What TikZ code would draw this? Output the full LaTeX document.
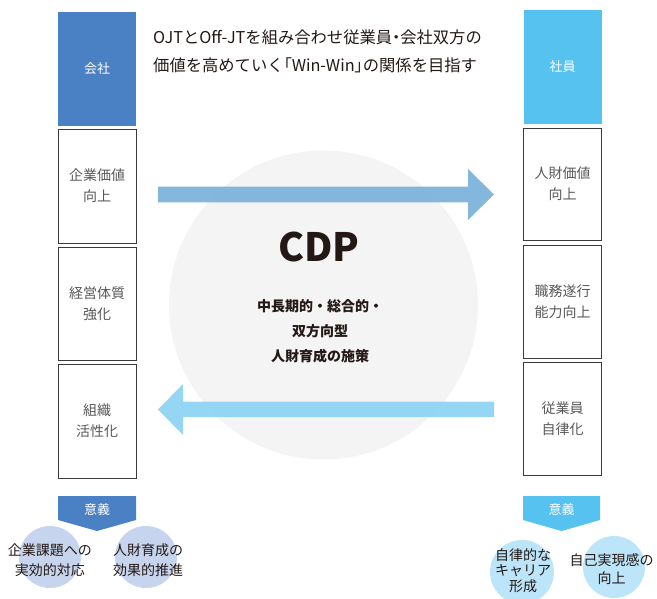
\documentclass[tikz,border=0pt]{standalone}
\usepackage{fontspec}
\setmainfont{Noto Sans CJK JP}
\newcommand{\pp}[1]{{\addfontfeature{RawFeature=+palt}#1}}
\definecolor{hdrL}{HTML}{4A81C4}
\definecolor{hdrR}{HTML}{56C2F0}
\definecolor{arrL}{HTML}{7DB3DC}
\definecolor{arrR}{HTML}{8FD4F3}
\definecolor{cdpfill}{HTML}{F4F4F4}
\definecolor{cellline}{HTML}{3A3A3A}
\definecolor{celltext}{HTML}{595757}
\definecolor{darktext}{HTML}{231815}
\definecolor{dotL}{HTML}{C7D4ED}
\definecolor{dotR}{HTML}{BDE5F9}
\tikzset{
  header/.style={minimum width=78pt, minimum height=114pt, inner sep=0pt, text=white, font=\fontsize{13}{16}\selectfont},
  cell/.style={draw=cellline, line width=0.9pt, minimum width=78pt, minimum height=114pt, inner sep=0pt, align=center, text=celltext, font=\fontsize{14}{21}\selectfont},
  dot/.style={circle, minimum size=62pt, inner sep=0pt},
  dottext/.style={align=center, text=darktext, inner sep=0pt, font=\fontsize{14}{20}\selectfont},
  meaning/.style={text=white, inner sep=0pt, font=\fontsize{13}{16}\selectfont}
}
\begin{document}
\begin{tikzpicture}[x=1pt,y=-1pt]
\useasboundingbox (0,0) rectangle (657,599);

% central circle
\node[circle, fill=cdpfill, minimum size=309pt, inner sep=0pt] (cdp) at (323.5,305) {};

% columns
\node[header, fill=hdrL] (kaisha) at (97,69) {会社};
\node[cell] (l1) at (97,186) {企業価値\\向上};
\node[cell, minimum height=113pt] (l2) at (97,303.5) {経営体質\\強化};
\node[cell] (l3) at (97,421) {組織\\活性化};

\node[header, fill=hdrR] (shain) at (562.5,67) {社員};
\node[cell, minimum height=112pt] (r1) at (562.5,184) {人財価値\\向上};
\node[cell, minimum height=113pt] (r2) at (562.5,301.5) {職務遂行\\能力向上};
\node[cell, minimum height=113pt] (r3) at (562.5,419) {従業員\\自律化};

% top text
\node[anchor=west, align=left, inner sep=0pt, text=darktext, font=\fontsize{16.3}{28}\selectfont] (lead) at (153,51)
  {OJTとOff-JTを組み合わせ従業員\pp{・}会社双方の\\価値を高めていく\pp{「}Win-Win\pp{」}の関係を目指す};

% block arrows
\fill[arrL, opacity=0.95] (158,186.7) -- (468,186.7) -- (468,169) -- (494,194.5) -- (468,220) -- (468,202.3) -- (158,202.3) -- cycle;
\fill[arrR, opacity=0.95] (494,401.7) -- (183,401.7) -- (183,384) -- (158,409.5) -- (183,435) -- (183,417) -- (494,417) -- cycle;

% CDP text
\node[inner sep=0pt, text=darktext, font=\fontsize{39}{48}\selectfont\bfseries] (cdptitle) at (319,247) {CDP};
\node[align=center, inner sep=0pt, text=darktext, font=\fontsize{14}{25}\selectfont\bfseries] (cdpsub) at (320,331.5)
  {中長期的・総合的・\\双方向型\\人財育成の施策};

% meaning tags
\fill[hdrL] (58,496) -- (136,496) -- (136,520) -- (97,531) -- (58,520) -- cycle;
\node[meaning] (imiL) at (97,510) {意義};
\fill[hdrR] (523,496) -- (600,496) -- (600,520) -- (561.5,531) -- (523,520) -- cycle;
\node[meaning] (imiR) at (561.5,510) {意義};

% bottom circles
\node[dot, fill=dotL] (bl1) at (50,557) {};
\node[dot, fill=dotL] (bl2) at (146,557) {};
\node[dottext] at (50,560) {企業課題への\\実効的対応};
\node[dottext] at (148,560) {人財育成の\\効果的推進};

\node[dot, fill=dotR, minimum size=64pt] (br1) at (522,572) {};
\node[dot, fill=dotR] (br2) at (614,567) {};
\node[dottext, font=\fontsize{14}{15.5}\selectfont] at (523,570.5) {自律的な\\キャリア\\形成};
\node[dottext, font=\fontsize{14}{18}\selectfont] at (611.5,569) {自己実現感の\\向上};
\end{tikzpicture}
\end{document}
